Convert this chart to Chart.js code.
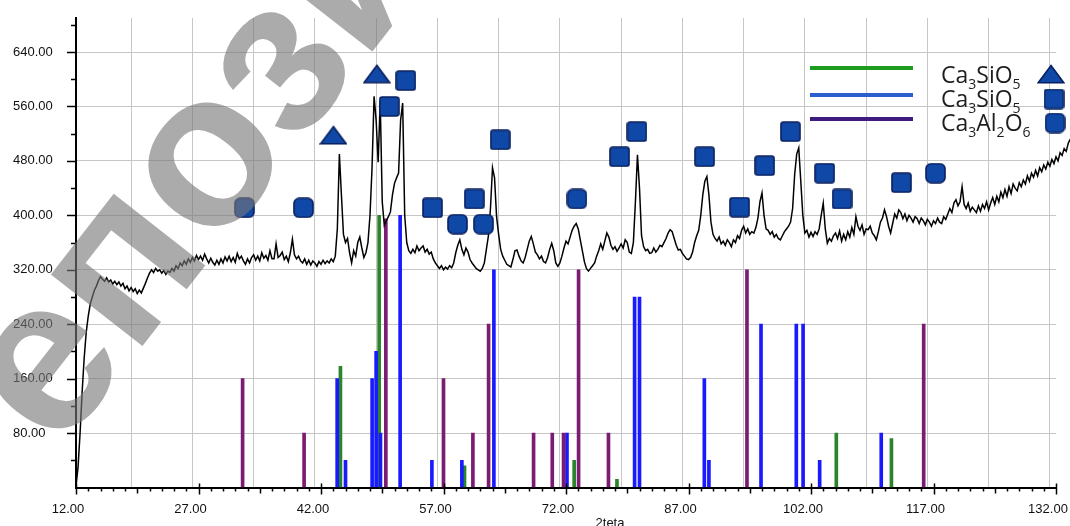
<!DOCTYPE html>
<html>
<head>
<meta charset="utf-8">
<script src="https://cdn.jsdelivr.net/npm/chart.js@4.4.1/dist/chart.umd.min.js"></script>
<style>
  html, body { margin: 0; padding: 0; background: #fff; }
</style>
</head>
<body>
<canvas id="xrd" width="1070" height="526"></canvas>
<script>
// measured scan, one reading every 0.25 deg starting at 12.00
var scanStart = 12;
var scanStep = 0.25;
var intensity = [
  2, 30, 80, 140, 190, 228, 252, 270, 280, 290, 296, 304, 310, 306, 303, 308, 302, 305, 299, 303,
  298, 302, 296, 300, 292, 296, 289, 294, 288, 292, 285, 290, 286, 293, 300, 308, 315, 320, 316, 322,
  318, 320, 315, 319, 313, 318, 316, 322, 318, 326, 322, 330, 326, 333, 328, 336, 331, 338, 333, 341,
  335, 340, 334, 343, 336, 330, 337, 331, 327, 334, 328, 336, 330, 339, 333, 340, 332, 338, 331, 344,
  336, 340, 333, 328, 336, 330, 338, 342, 334, 340, 333, 345, 337, 341, 334, 348, 336, 336, 358, 338,
  341, 346, 335, 340, 332, 345, 365, 342, 336, 340, 333, 330, 336, 328, 334, 327, 333, 330, 325, 332,
  328, 334, 329, 333, 330, 336, 332, 340, 380, 490, 430, 372, 360, 366, 345, 330, 348, 340, 360, 368,
  352, 338, 345, 360, 400, 470, 575, 540, 478, 568, 420, 385, 392, 398, 405, 430, 447, 455, 462, 540,
  565, 400, 360, 348, 344, 350, 345, 355, 348, 352, 355, 346, 350, 343, 346, 336, 330, 326, 322, 326,
  320, 324, 321, 326, 323, 330, 345, 356, 364, 350, 342, 352, 346, 335, 330, 326, 322, 320, 318, 322,
  330, 350, 370, 410, 470, 455, 398, 372, 350, 340, 334, 328, 326, 324, 335, 348, 349, 340, 333, 330,
  338, 350, 362, 369, 358, 346, 342, 336, 340, 332, 330, 338, 350, 359, 348, 330, 325, 330, 340, 352,
  362, 358, 368, 378, 384, 388, 380, 364, 348, 332, 322, 318, 322, 326, 330, 340, 348, 358, 350, 362,
  374, 368, 356, 350, 354, 347, 352, 358, 352, 364, 360, 346, 344, 360, 420, 489, 440, 370, 354, 348,
  350, 344, 345, 352, 346, 350, 356, 354, 360, 366, 374, 379, 376, 366, 356, 349, 350, 344, 340, 336,
  335, 338, 346, 360, 370, 378, 400, 430, 450, 457, 430, 390, 372, 366, 362, 368, 358, 362, 356, 364,
  360, 354, 364, 360, 370, 366, 378, 384, 374, 380, 372, 376, 374, 382, 396, 420, 433, 400, 380, 378,
  372, 376, 368, 372, 366, 364, 370, 376, 380, 384, 390, 410, 460, 490, 499, 450, 400, 374, 378, 368,
  375, 369, 376, 372, 380, 400, 418, 380, 359, 366, 362, 370, 374, 366, 377, 362, 372, 364, 376, 368,
  382, 372, 398, 384, 378, 386, 372, 380, 379, 384, 374, 370, 364, 376, 390, 396, 408, 398, 384, 374,
  388, 402, 396, 408, 404, 395, 402, 392, 400, 396, 390, 398, 395, 388, 396, 392, 386, 394, 390, 384,
  392, 388, 396, 390, 388, 398, 394, 402, 410, 404, 418, 423, 414, 420, 442, 416, 410, 418, 406, 412,
  408, 404, 414, 406, 416, 410, 420, 408, 418, 426, 416, 428, 420, 434, 426, 438, 428, 442, 432, 446,
  440, 436, 448, 442, 452, 446, 458, 450, 462, 456, 466, 458, 470, 464, 474, 468, 478, 472, 482, 476,
  486, 480, 492, 488, 498, 494, 506, 512
];

// reference line patterns: 2theta and relative height
var greenPos = [44.38, 49.12, 59.57, 73.0, 78.24, 105.1, 111.85];
var greenInt = [178, 400, 32, 40, 12, 80, 72];
var bluePos = [43.98, 45.0, 48.26, 48.75, 49.28, 51.69, 55.58, 59.25, 63.17, 72.12, 80.4, 81.0, 88.94, 89.5, 95.88, 100.2, 101.03, 103.06, 110.6];
var blueInt = [160, 40, 160, 200, 80, 400, 40, 40, 320, 80, 280, 280, 160, 40, 240, 240, 240, 40, 80];
var purplePos = [32.4, 39.93, 49.94, 57.0, 60.6, 62.52, 68.03, 70.32, 71.7, 73.54, 77.2, 94.16, 115.8];
var purpleInt = [160, 80, 395, 160, 80, 240, 80, 80, 80, 320, 80, 320, 240];

// phase markers above the peaks
var triMarkX = [43.52, 48.84];
var triMarkY = [518, 608];
var sqMarkX = [50.35, 52.39, 55.65, 60.76, 63.94, 78.56, 80.69, 88.97, 93.26, 96.33, 99.47, 103.67, 105.8, 113.07];
var sqMarkY = [560, 598, 411, 424, 511, 486, 523, 486, 412, 473, 523, 462, 424, 448];
var rndMarkX = [32.62, 39.85, 58.71, 61.9, 73.34, 117.24];
var rndMarkY = [411, 411, 387, 387, 424, 462];

var xTickLabels = [12, 27, 42, 57, 72, 87, 102, 117, 132];
var yTickLabels = [80, 160, 240, 320, 400, 480, 560, 640];

function pts(xs, ys) {
  return xs.map(function (x, i) { return { x: x, y: ys[i] }; });
}

function marker(kind) {
  var c = document.createElement('canvas');
  var w = kind === 'tri' ? 28 : 21;
  var h = kind === 'tri' ? 20 : 21;
  c.width = w; c.height = h;
  var g = c.getContext('2d');
  g.fillStyle = '#0f48a6';
  g.strokeStyle = '#0a1f5e';
  g.lineWidth = 1.6;
  g.beginPath();
  if (kind === 'tri') {
    g.moveTo(w / 2, 1.5);
    g.lineTo(w - 1.2, h - 1.2);
    g.lineTo(1.2, h - 1.2);
    g.closePath();
  } else {
    g.roundRect(1, 1, w - 2, h - 2, kind === 'rnd' ? 5 : 2.5);
  }
  g.fill();
  g.stroke();
  return c;
}
var triImg = marker('tri'), sqImg = marker('sq'), rndImg = marker('rnd');

function sticks(xs, ys, color) {
  return {
    type: 'bar', data: pts(xs, ys), backgroundColor: color, borderWidth: 0,
    barThickness: 3, grouped: false, order: 3
  };
}

function marks(xs, ys, img) {
  return { type: 'scatter', data: pts(xs, ys), pointStyle: img, pointRadius: 10, order: 1 };
}

var scanPoints = intensity.map(function (v, i) { return { x: scanStart + i * scanStep, y: v }; });

function onStep(v, step) {
  var k = (v - 12) / step;
  return Math.abs(k - Math.round(k)) < 1e-6;
}

// minor ticks, legend, axis name and the overlay lettering
var decor = {
  id: 'decor',
  afterDraw: function (chart) {
    var ctx = chart.ctx, xs = chart.scales.x, ys = chart.scales.y;
    var x0 = xs.left, y0 = ys.getPixelForValue(0);
    ctx.save();
    ctx.strokeStyle = '#000';
    ctx.lineWidth = 1.5;
    ctx.beginPath();
    for (var v = 12; v <= 132.001; v += 1.5) {
      var px = Math.round(xs.getPixelForValue(v)) + 0.5;
      if (onStep(v, 15)) { ctx.moveTo(px, y0 - 4); ctx.lineTo(px, y0 + 7); }
      else if (onStep(v, 7.5)) { ctx.moveTo(px, y0); ctx.lineTo(px, y0 + 6); }
      else { ctx.moveTo(px, y0); ctx.lineTo(px, y0 + 4); }
    }
    for (var t = 40; t <= 680; t += 40) {
      var py = Math.round(ys.getPixelForValue(t)) + 0.5;
      ctx.moveTo(x0 - (t % 80 === 0 ? 9 : 5), py);
      ctx.lineTo(x0, py);
    }
    ctx.stroke();

    // legend
    var rows = [
      { color: '#1f9b1f', y: 68, parts: [['Ca', 0], ['3', 1], ['SiO', 0], ['5', 1]], img: triImg, mx: 1051, my: 74 },
      { color: '#2b5fcf', y: 95, parts: [['Ca', 0], ['3', 1], ['SiO', 0], ['5', 1]], img: sqImg, mx: 1054, my: 99 },
      { color: '#3f1b80', y: 119, parts: [['Ca', 0], ['3', 1], ['Al', 0], ['2', 1], ['O', 0], ['6', 1]], img: rndImg, mx: 1055, my: 123 }
    ];
    rows.forEach(function (r, i) {
      ctx.strokeStyle = r.color;
      ctx.lineWidth = 4;
      ctx.beginPath();
      ctx.moveTo(810, r.y);
      ctx.lineTo(913, r.y);
      ctx.stroke();
      var tx = 941, base = 83 + i * 24;
      ctx.fillStyle = '#1e1e1e';
      ctx.textBaseline = 'alphabetic';
      ctx.textAlign = 'left';
      r.parts.forEach(function (p) {
        ctx.font = p[1] ? '14px "Open Sans"' : '23px "Open Sans"';
        ctx.fillText(p[0], tx, base + (p[1] ? 6 : 0));
        tx += ctx.measureText(p[0]).width;
      });
      ctx.drawImage(r.img, r.mx - r.img.width / 2, r.my - r.img.height / 2);
    });

    // axis name
    ctx.fillStyle = '#111';
    ctx.font = '13px "Liberation Sans"';
    ctx.textAlign = 'center';
    ctx.textBaseline = 'top';
    ctx.fillText('2teta', 610, 517);

    // overlay lettering
    ctx.fillStyle = 'rgba(120,120,120,0.62)';
    ctx.font = 'bold 220px "Liberation Sans"';
    ctx.textAlign = 'left';
    ctx.textBaseline = 'alphabetic';
    ctx.translate(61, 450);
    ctx.rotate(-52 * Math.PI / 180);
    ctx.fillText('Репозиторий', -ctx.measureText('Р').width, 0);
    ctx.restore();
  }
};

var tickFont = { family: 'Liberation Sans', size: 13 };

new Chart(document.getElementById('xrd'), {
  type: 'line',
  data: {
    datasets: [
      sticks(purplePos, purpleInt, '#7b1c72'),
      sticks(bluePos, blueInt, '#1a1aff'),
      sticks(greenPos, greenInt, '#2a852a'),
      {
        type: 'line', data: scanPoints, xAxisID: 'xLine', borderColor: '#000',
        borderWidth: 1.5, pointRadius: 0, tension: 0, clip: false, order: 2
      },
      marks(triMarkX, triMarkY, triImg),
      marks(sqMarkX, sqMarkY, sqImg),
      marks(rndMarkX, rndMarkY, rndImg)
    ]
  },
  options: {
    responsive: false,
    animation: false,
    events: [],
    layout: { padding: { top: 18, right: 14, left: 13, bottom: 0 } },
    plugins: { legend: { display: false }, tooltip: { enabled: false } },
    scales: {
      x: {
        type: 'linear', min: 12, max: 132, offset: false,
        ticks: {
          stepSize: 1.5, autoSkip: false, maxRotation: 0, minRotation: 0,
          labelOffset: -8, padding: 14, color: '#111', font: tickFont,
          callback: function (v) { return xTickLabels.indexOf(v) >= 0 ? v.toFixed(2) : ''; }
        },
        grid: {
          drawTicks: false, lineWidth: 1,
          color: function (c) { return c.tick && onStep(c.tick.value, 7.5) ? '#c6c6c6' : 'rgba(0,0,0,0)'; }
        },
        border: { color: '#000', width: 2 },
        afterFit: function (s) { s.height = 38.5; s.paddingLeft = 0; s.paddingRight = 0; }
      },
      xLine: {
        type: 'linear', display: false, min: 12, bounds: 'data',
        afterDataLimits: function (s) { s.max = 132; }
      },
      y: {
        min: 0, max: 690,
        ticks: {
          stepSize: 40, includeBounds: false, crossAlign: 'far', color: '#111', font: tickFont,
          callback: function (v) { return yTickLabels.indexOf(v) >= 0 ? v.toFixed(2) : ''; }
        },
        grid: {
          drawTicks: false, lineWidth: 1,
          color: function (c) { return c.tick && yTickLabels.indexOf(c.tick.value) >= 0 ? '#c6c6c6' : 'rgba(0,0,0,0)'; }
        },
        border: { color: '#000', width: 2 },
        afterFit: function (s) { s.width = 63; s.paddingTop = 0; s.paddingBottom = 0; }
      }
    }
  },
  plugins: [decor]
});
</script>
</body>
</html>
